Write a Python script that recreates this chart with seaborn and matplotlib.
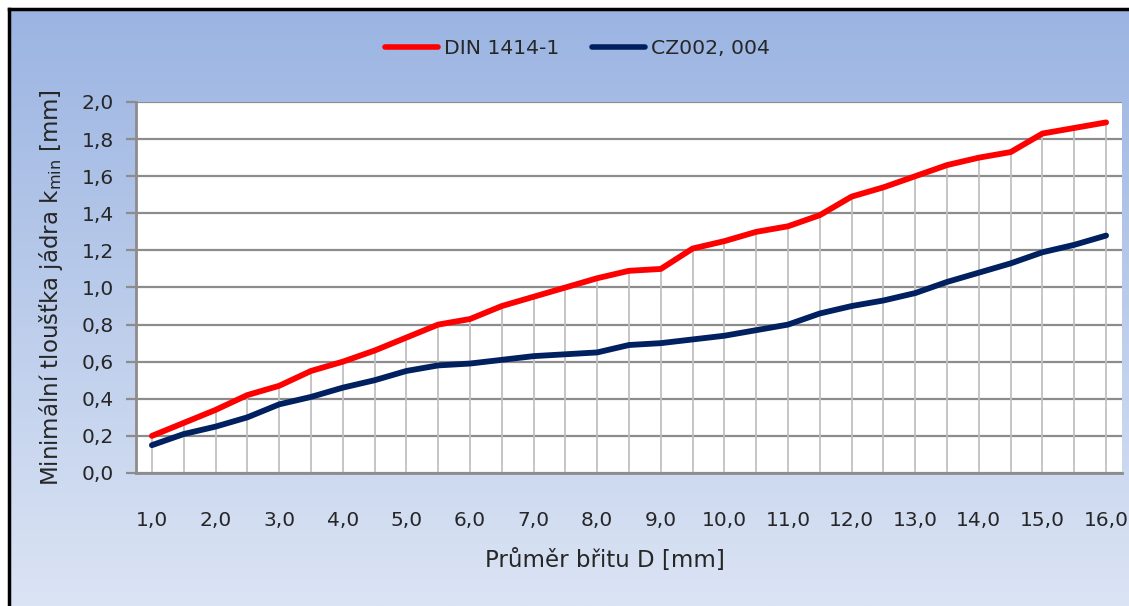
#chart: minimal core thickness vs. cutter diameter (DIN 1414-1 vs CZ002, 004)
import numpy as np
import pandas as pd
import matplotlib
matplotlib.use("Agg")
import matplotlib.pyplot as plt
from matplotlib.ticker import FuncFormatter, MultipleLocator
import seaborn as sns

# values
prumer = [1.0, 1.5, 2.0, 2.5, 3.0, 3.5, 4.0, 4.5, 5.0, 5.5, 6.0, 6.5, 7.0, 7.5, 8.0, 8.5,
          9.0, 9.5, 10.0, 10.5, 11.0, 11.5, 12.0, 12.5, 13.0, 13.5, 14.0, 14.5, 15.0, 15.5, 16.0]
din = [0.20, 0.27, 0.34, 0.42, 0.47, 0.55, 0.60, 0.66, 0.73, 0.80, 0.83, 0.90, 0.95, 1.00, 1.05, 1.09,
       1.10, 1.21, 1.25, 1.30, 1.33, 1.39, 1.49, 1.54, 1.60, 1.66, 1.70, 1.73, 1.83, 1.86, 1.89]
cz = [0.15, 0.21, 0.25, 0.30, 0.37, 0.41, 0.46, 0.50, 0.55, 0.58, 0.59, 0.61, 0.63, 0.64, 0.65, 0.69,
      0.70, 0.72, 0.74, 0.77, 0.80, 0.86, 0.90, 0.93, 0.97, 1.03, 1.08, 1.13, 1.19, 1.23, 1.28]
series_names = ["DIN 1414-1", "CZ002, 004"]
colors = ["#ff0000", "#002060"]

df = pd.concat([
    pd.DataFrame({"D": prumer, "k": din, "norma": series_names[0]}),
    pd.DataFrame({"D": prumer, "k": cz, "norma": series_names[1]}),
])

sns.set_style("white")
plt.rcParams["font.family"] = ["DejaVu Sans"]

fig = plt.figure(figsize=(11.29, 6.06), dpi=100)
fig.patch.set_facecolor("white")

# blue gradient background with dark frame on left/top
bg = fig.add_axes([9 / 1129, 0, 1 - 9 / 1129, 1 - 9 / 606], zorder=-10)
grad = np.linspace(0, 1, 256).reshape(-1, 1)
cmap = matplotlib.colors.LinearSegmentedColormap.from_list("bg", ["#9bb4e2", "#dbe4f4"])
bg.imshow(grad, aspect="auto", cmap=cmap, extent=[0, 1, 0, 1], origin="upper")
bg.set_xticks([])
bg.set_yticks([])
for side in ["right", "bottom"]:
    bg.spines[side].set_visible(False)
for side in ["left", "top"]:
    bg.spines[side].set_color("black")
    bg.spines[side].set_linewidth(2.5)

ax = fig.add_axes([136 / 1129, 133 / 606, 986 / 1129, 371 / 606])
ax.set_facecolor("white")

# drop lines from the upper series to the axis
ax.vlines(prumer, 0, din, color="#c0c0c0", linewidth=1.3, zorder=1)

sns.lineplot(data=df, x="D", y="k", hue="norma", palette=colors, linewidth=4.2,
             ax=ax, legend=False, zorder=3)

ax.set_xlim(0.75, 16.25)
ax.set_ylim(0, 2.0)
ax.yaxis.set_major_locator(MultipleLocator(0.2))
ax.xaxis.set_major_locator(MultipleLocator(1.0))
fmt = FuncFormatter(lambda v, p: f"{v:.1f}".replace(".", ","))
ax.xaxis.set_major_formatter(fmt)
ax.yaxis.set_major_formatter(fmt)
ax.grid(axis="y", color="#8c8c8c", linewidth=1.6, zorder=0)
ax.set_axisbelow(True)

for side in ["top", "right"]:
    ax.spines[side].set_visible(False)
ax.spines["left"].set_color("#8c8c8c")
ax.spines["left"].set_linewidth(2)
ax.spines["bottom"].set_color("#8c8c8c")
ax.spines["bottom"].set_linewidth(2)

ax.tick_params(axis="y", direction="out", length=7, width=1.6, color="#8c8c8c",
               labelsize=14.5, pad=9, left=True)
ax.tick_params(axis="x", length=0, labelsize=14.5, pad=27)

ax.set_xlabel("Průměr břitu D [mm]", fontsize=16.5)
ax.xaxis.set_label_coords(0.4757, -0.205)
ax.set_ylabel(r"Minimální tloušťka jádra k$_\mathregular{min}$ [mm]", fontsize=16.5, labelpad=12)

handles = [plt.Line2D([], [], color=c, linewidth=4) for c in colors]
fig.legend(handles, series_names, loc="center", bbox_to_anchor=(0.5115, 1 - 49 / 606),
           ncol=2, frameon=False, fontsize=14.7, handlelength=2.6, handletextpad=0.3,
           columnspacing=1.6)

fig.savefig("out.png", dpi=100, facecolor=fig.get_facecolor())
